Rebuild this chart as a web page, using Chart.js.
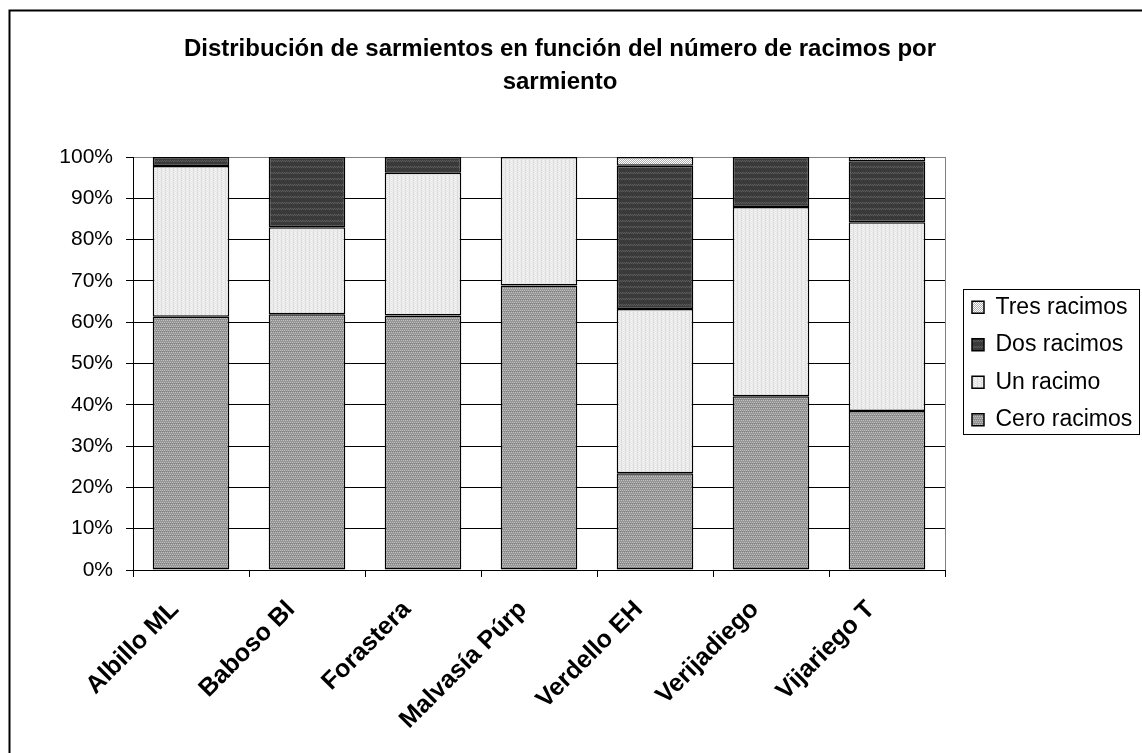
<!DOCTYPE html>
<html>
<head>
<meta charset="utf-8">
<script src="https://cdn.jsdelivr.net/npm/chart.js@4.4.1/dist/chart.umd.min.js"></script>
<style>
  html, body { margin: 0; padding: 0; background: #fff; }
  #wrap { width: 1142px; height: 753px; }
</style>
</head>
<body>
<div id="wrap"><canvas id="chart" width="1142" height="753"></canvas></div>
<script>
// Variedades de vid y porcentaje de sarmientos según número de racimos
const categories = ['Albillo ML', 'Baboso Bl', 'Forastera', 'Malvasía Púrp', 'Verdello EH', 'Verijadiego', 'Vijariego T'];
const ceroRacimos = [61.3, 61.9, 61.6, 68.9, 23.4, 42.1, 38.5];
const unRacimo    = [36.5, 21.1, 34.6, 31.1, 39.8, 45.8, 45.7];
const dosRacimos  = [2.2, 17.0, 3.8, 0, 34.7, 12.1, 14.8];
const tresRacimos = [0, 0, 0, 0, 2.1, 0, 1.0];
const seriesNames = ['Cero racimos', 'Un racimo', 'Dos racimos', 'Tres racimos'];
const yTickValues = [0, 10, 20, 30, 40, 50, 60, 70, 80, 90, 100];
const titleLines = ['Distribución de sarmientos en función del número de racimos por', 'sarmiento'];

const FONT = '"Liberation Sans", Arial, Helvetica, sans-serif';

// Small stippled tiles used as fill patterns for each series
function makePattern(rows) {
  const h = rows.length, w = rows[0].length;
  const c = document.createElement('canvas');
  c.width = w; c.height = h;
  const g = c.getContext('2d');
  rows.forEach((row, y) => row.forEach((v, x) => {
    g.fillStyle = 'rgb(' + v + ',' + v + ',' + v + ')';
    g.fillRect(x, y, 1, 1);
  }));
  return g.createPattern(c, 'repeat');
}

const fillCero = makePattern([
  [150, 192, 150, 192],
  [150, 150, 150, 150],
  [192, 150, 192, 150],
  [128, 150, 128, 150]
]);
const fillUn = makePattern([
  [236, 216, 236, 248],
  [236, 228, 236, 226]
]);
const fillDos = makePattern([
  [58, 66, 58, 52],
  [60, 52, 62, 56],
  [56, 62, 52, 60],
  [52, 58, 66, 58],
  [88, 64, 92, 64],
  [64, 92, 64, 88]
]);
const fillTres = makePattern([
  [255, 176],
  [176, 255]
]);

const seriesValues = [ceroRacimos, unRacimo, dosRacimos, tresRacimos];
const seriesFills = [fillCero, fillUn, fillDos, fillTres];

const LEGEND_W = 175;

const framePlugin = {
  id: 'frame',
  afterInit(chart) {
    // fixed legend column width so the plot keeps its right edge
    const lg = chart.legend;
    const fit = lg.fit;
    lg.fit = function () { fit.call(this); this.width = LEGEND_W; };
  },
  afterLayout(chart) {
    const lg = chart.legend;
    const pad = lg.options.labels.padding;
    const shift = chart.chartArea.right + 27 - pad - lg.left;
    lg.left += shift; lg.right += shift;
  },
  beforeDraw(chart) {
    const ctx = chart.ctx;
    ctx.save();
    ctx.fillStyle = '#fff';
    ctx.fillRect(0, 0, chart.width, chart.height);
    ctx.restore();
  },
  afterDraw(chart) {
    const ctx = chart.ctx;
    const a = chart.chartArea;
    ctx.save();
    ctx.strokeStyle = '#000';
    // outer frame
    ctx.lineWidth = 2;
    ctx.beginPath();
    ctx.moveTo(9.5, chart.height);
    ctx.lineTo(9.5, 10.5);
    ctx.lineTo(chart.width, 10.5);
    ctx.stroke();
    // legend frame
    ctx.lineWidth = 1;
    const cy = (a.top + a.bottom) / 2;
    const x0 = Math.round(a.right + 18) + 0.5;
    const x1 = chart.width - 2.5;
    const y0 = Math.round(cy - 75) + 0.5;
    const y1 = Math.round(cy + 70) + 0.5;
    ctx.strokeRect(x0, y0, x1 - x0, y1 - y0);
    ctx.restore();
  }
};

new Chart(document.getElementById('chart'), {
  type: 'bar',
  data: {
    labels: categories,
    datasets: seriesNames.map((name, i) => ({
      label: name,
      data: seriesValues[i],
      backgroundColor: seriesFills[i],
      borderColor: '#000',
      borderWidth: 1.5,
      borderSkipped: false,
      barPercentage: 0.66,
      categoryPercentage: 1.0
    }))
  },
  options: {
    responsive: false,
    animation: false,
    devicePixelRatio: 1,
    layout: { padding: { left: 0, right: 22, top: 0, bottom: 0 } },
    plugins: {
      title: {
        display: true,
        text: titleLines,
        color: '#000',
        font: { family: FONT, size: 24, weight: 'bold', lineHeight: 1.375 },
        padding: { top: 33, bottom: 58 }
      },
      legend: {
        display: true,
        position: 'right',
        fullSize: false,
        reverse: true,
        align: 'center',
        labels: {
          color: '#000',
          font: { family: FONT, size: 23 },
          boxWidth: 12,
          boxHeight: 12,
          padding: 14.5
        }
      },
      tooltip: { enabled: false }
    },
    scales: {
      x: {
        stacked: true,
        offset: true,
        grid: {
          offset: true,
          drawOnChartArea: true,
          drawTicks: true,
          tickLength: 7,
          color: c => (c.type === 'tick' ? 'rgba(0,0,0,0)' : '#808080'),
          tickColor: '#000',
          lineWidth: 1
        },
        border: { display: true, color: '#000', width: 1 },
        ticks: {
          color: '#000',
          font: { family: FONT, size: 25, weight: 'bold' },
          minRotation: 45,
          maxRotation: 45,
          autoSkip: false,
          padding: 18,
          labelOffset: -16
        },
        afterFit: s => { s.height = 183; }
      },
      y: {
        stacked: true,
        min: 0,
        max: 100,
        grid: {
          color: c => (c.tick && c.tick.value === 100 ? '#808080' : '#000'),
          tickColor: '#000',
          tickLength: 7,
          lineWidth: 1
        },
        border: { display: true, color: '#000', width: 1 },
        afterBuildTicks: s => { s.ticks = yTickValues.map(v => ({ value: v })); },
        ticks: {
          color: '#000',
          font: { family: FONT, size: 21 },
          padding: 13,
          callback: v => v + '%'
        },
        afterFit: s => { s.width = 133; }
      }
    }
  },
  plugins: [framePlugin]
});
</script>
</body>
</html>
